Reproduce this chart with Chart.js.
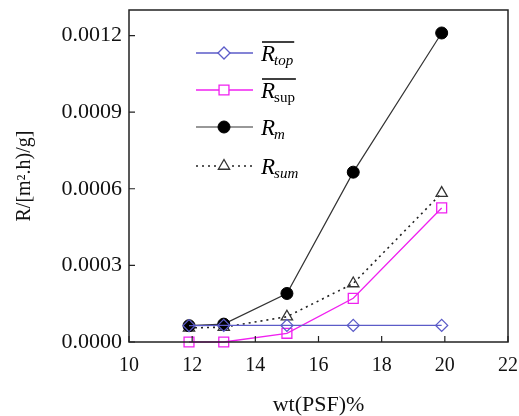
<!DOCTYPE html>
<html>
<head>
<meta charset="utf-8">
<script src="https://cdn.jsdelivr.net/npm/chart.js@4.4.1/dist/chart.umd.min.js"></script>
<style>
  html, body { margin: 0; padding: 0; background: #fff; }
  #wrap { width: 519px; height: 416px; }
</style>
</head>
<body>
<div id="wrap"><canvas id="chart" width="519" height="416"></canvas></div>
<script>
// === DADOS ===
const wtPSF = [11.9, 13.0, 15.0, 17.1, 19.9];
const rTop = [0.000064, 0.000065, 0.000065, 0.000065, 0.000065];
const rSup = [0.0, 0.0, 0.000034, 0.000171, 0.000525];
const rM = [0.000064, 0.00007, 0.00019, 0.000665, 0.00121];
const rSum = [0.000055, 0.000058, 0.000099, 0.000229, 0.000583];

const xTicks = [10, 12, 14, 16, 18, 20, 22];
const yTicks = [0, 0.0003, 0.0006, 0.0009, 0.0012];

const toPoints = (ys) => ys.map((y, i) => ({ x: wtPSF[i], y: y }));

const serif = "'Liberation Serif', 'Times New Roman', serif";

// legend entries: subscript, subscript italic?, overline?
const legendItems = [
  { sub: "top", subItalic: true, bar: true },
  { sub: "sup", subItalic: false, bar: true },
  { sub: "m", subItalic: true, bar: false },
  { sub: "sum", subItalic: true, bar: false },
];

// === FRAME + INWARD TICKS ===
const framePlugin = {
  id: "frame",
  afterDraw(chart) {
    const { ctx, chartArea: a, scales } = chart;
    ctx.save();
    ctx.strokeStyle = "#222";
    ctx.lineWidth = 1.5;
    ctx.strokeRect(a.left, a.top, a.right - a.left, a.bottom - a.top);
    ctx.lineWidth = 1.2;
    ctx.beginPath();
    xTicks.forEach((v) => {
      const px = scales.x.getPixelForValue(v);
      ctx.moveTo(px, a.bottom);
      ctx.lineTo(px, a.bottom - 6);
    });
    yTicks.forEach((v) => {
      const py = scales.y.getPixelForValue(v);
      ctx.moveTo(a.left, py);
      ctx.lineTo(a.left + 6, py);
    });
    ctx.stroke();
    ctx.restore();
  },
};

function drawMarker(ctx, ds, x, y, fill) {
  ctx.save();
  ctx.lineWidth = ds.pointBorderWidth;
  ctx.strokeStyle = ds.pointBorderColor;
  ctx.fillStyle = fill;
  Chart.helpers.drawPoint(ctx, {
    pointStyle: ds.pointStyle,
    radius: ds.pointRadius,
    borderWidth: ds.pointBorderWidth,
    rotation: 0,
  }, x, y);
  ctx.restore();
}

// === LEGENDA ===
const legendPlugin = {
  id: "mathLegend",
  afterDraw(chart) {
    const { ctx } = chart;
    const x0 = 196, x1 = 253, xm = 224, xt = 261;
    const rows = [53, 90, 127, 166];
    ctx.save();
    chart.data.datasets.forEach((ds, i) => {
      const y = rows[i];
      const item = legendItems[i];
      ctx.strokeStyle = ds.borderColor;
      ctx.lineWidth = ds.borderWidth;
      ctx.setLineDash(ds.borderDash || []);
      ctx.beginPath();
      ctx.moveTo(x0, y);
      ctx.lineTo(x1, y);
      ctx.stroke();
      ctx.setLineDash([]);
      const solid = ds.pointBackgroundColor === "#000";
      drawMarker(ctx, ds, xm, y, solid ? "#000" : "#fff");

      ctx.fillStyle = "#000";
      ctx.textBaseline = "alphabetic";
      ctx.font = "italic 23px " + serif;
      ctx.fillText("R", xt, y + 8);
      const rw = ctx.measureText("R").width;
      ctx.font = (item.subItalic ? "italic " : "") + "15px " + serif;
      ctx.fillText(item.sub, xt + rw - 1, y + 12);
      const sw = ctx.measureText(item.sub).width;
      if (item.bar) {
        ctx.strokeStyle = "#000";
        ctx.lineWidth = 1.6;
        ctx.beginPath();
        ctx.moveTo(xt + 1, y - 11);
        ctx.lineTo(xt + rw + sw, y - 11);
        ctx.stroke();
      }
    });
    ctx.restore();
  },
};

new Chart(document.getElementById("chart"), {
  type: "line",
  data: {
    datasets: [
      {
        label: "R_top",
        data: toPoints(rTop),
        borderColor: "#5b5bc8",
        borderWidth: 1.3,
        pointStyle: "rectRot",
        pointRadius: 6,
        pointBorderWidth: 1.3,
        pointBorderColor: "#5b5bc8",
        pointBackgroundColor: "rgba(255,255,255,0)",
      },
      {
        label: "R_sup",
        data: toPoints(rSup),
        borderColor: "#f020f0",
        borderWidth: 1.3,
        pointStyle: "rect",
        pointRadius: 7,
        pointBorderWidth: 1.3,
        pointBorderColor: "#f020f0",
        pointBackgroundColor: "rgba(255,255,255,0)",
      },
      {
        label: "R_m",
        data: toPoints(rM),
        borderColor: "#333",
        borderWidth: 1.2,
        pointStyle: "circle",
        pointRadius: 6,
        pointBorderWidth: 1,
        pointBorderColor: "#000",
        pointBackgroundColor: "#000",
      },
      {
        label: "R_sum",
        data: toPoints(rSum),
        borderColor: "#222",
        borderWidth: 1.6,
        borderDash: [2, 4],
        pointStyle: "triangle",
        pointRadius: 6.5,
        pointBorderWidth: 1.3,
        pointBorderColor: "#333",
        pointBackgroundColor: "rgba(255,255,255,0)",
      },
    ],
  },
  options: {
    responsive: false,
    animation: false,
    layout: { padding: { top: 10, right: 11, left: 0, bottom: 0 } },
    plugins: { legend: { display: false }, tooltip: { enabled: false } },
    elements: { line: { tension: 0, fill: false }, point: { hitRadius: 0 } },
    clip: false,
    scales: {
      x: {
        type: "linear",
        min: 10,
        max: 22,
        afterBuildTicks: (s) => { s.ticks = xTicks.map((v) => ({ value: v })); },
        afterFit: (s) => {
          s.height = 74;
          s.paddingLeft = 0;
          s.paddingRight = 0;
        },
        grid: { display: false, drawTicks: false },
        border: { display: false },
        ticks: {
          padding: 12,
          color: "#111",
          font: { family: serif, size: 20 },
          maxRotation: 0,
        },
        title: {
          display: true,
          text: "wt(PSF)%",
          color: "#111",
          font: { family: serif, size: 22, lineHeight: 1 },
          padding: { top: 0, bottom: 0 },
        },
      },
      y: {
        min: 0,
        max: 0.0013,
        afterBuildTicks: (s) => { s.ticks = yTicks.map((v) => ({ value: v })); },
        afterFit: (s) => {
          s.width = 129;
          s.paddingTop = 0;
          s.paddingBottom = 0;
        },
        grid: { display: false, drawTicks: false },
        border: { display: false },
        ticks: {
          padding: 7,
          color: "#111",
          font: { family: serif, size: 22 },
          callback: (v) => Number(v).toFixed(4),
        },
        title: {
          display: true,
          text: "R/[m².h)/g]",
          color: "#111",
          font: { family: serif, size: 20, lineHeight: 1 },
          padding: { top: 15, bottom: 0 },
        },
      },
    },
  },
  plugins: [framePlugin, legendPlugin],
});
</script>
</body>
</html>
